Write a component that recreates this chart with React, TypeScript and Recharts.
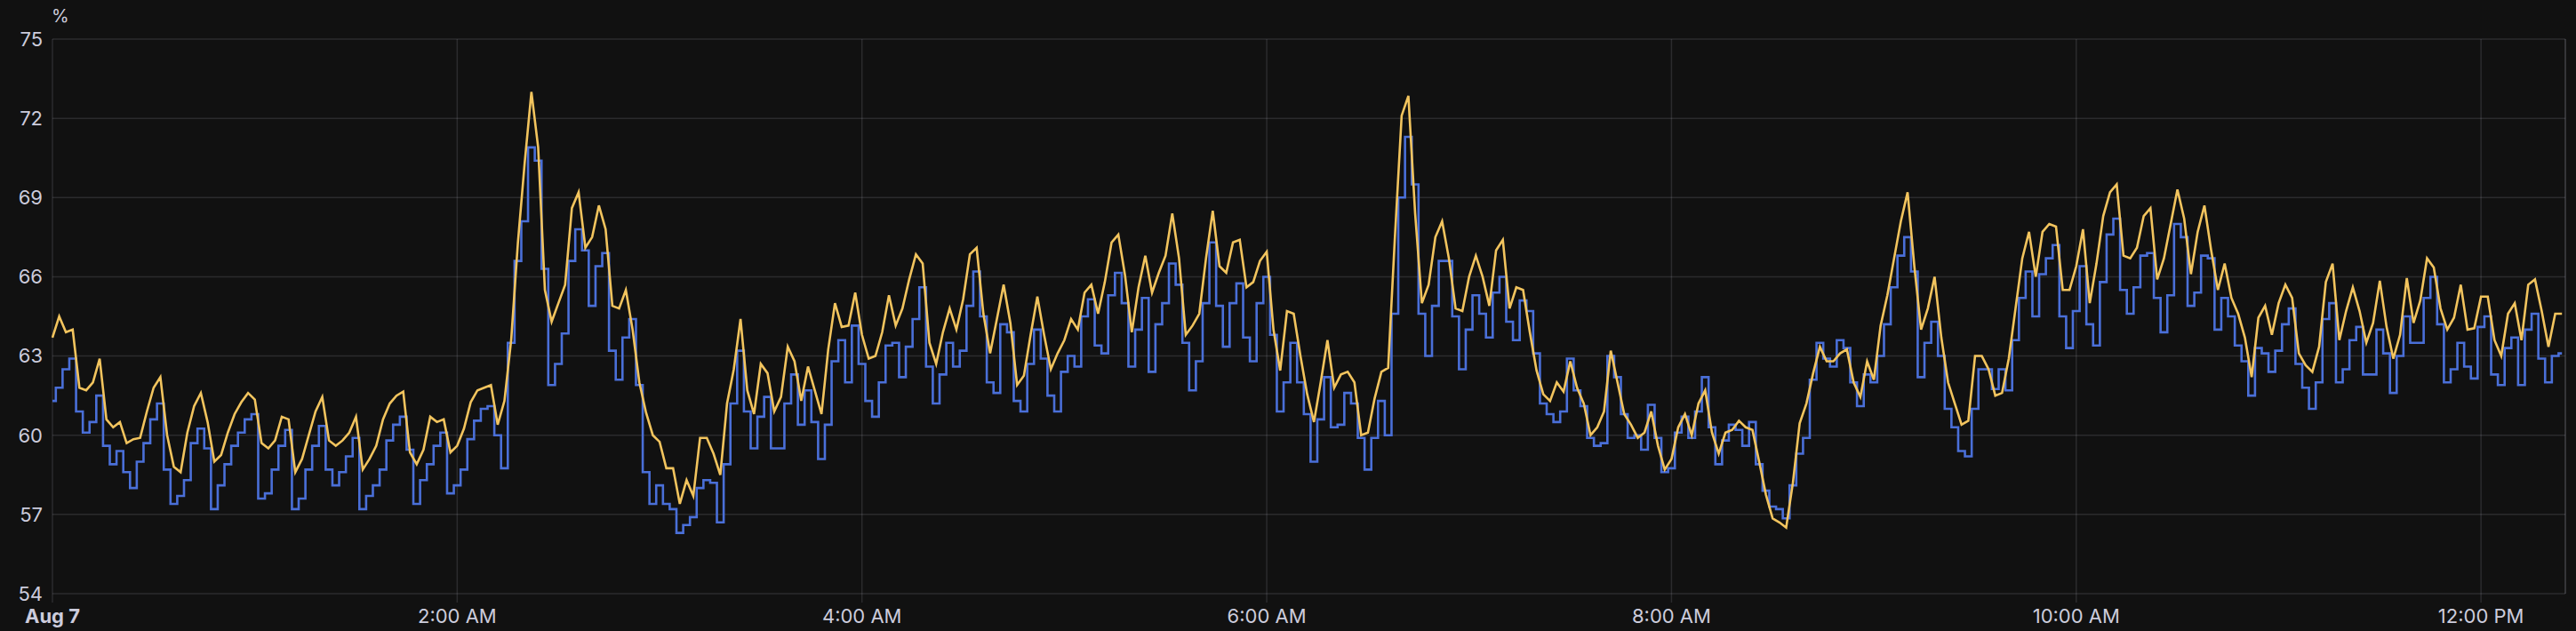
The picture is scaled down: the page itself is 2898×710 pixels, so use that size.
import React from "react";
import {
  LineChart,
  Line,
  XAxis,
  YAxis,
  CartesianGrid,
  ReferenceLine,
} from "recharts";

// minutes after midnight, one sample every 2 minutes
const STEP_MIN = 2;
const END_MIN = 745;

const tickMinutes = [0, 120, 240, 360, 480, 600, 720];
const tickLabels = ["Aug 7", "2:00 AM", "4:00 AM", "6:00 AM", "8:00 AM", "10:00 AM", "12:00 PM"];
const yTicks = [54, 57, 60, 63, 66, 69, 72, 75];

// yellow series (smooth line)
const yellowValues = [
  63.7, 64.5, 63.9, 64.0, 61.8, 61.7, 62.0, 62.9, 60.6, 60.3,
  60.5, 59.7, 59.85, 59.9, 60.9, 61.8, 62.2, 60.0, 58.8, 58.6,
  60.1, 61.1, 61.6, 60.5, 59.0, 59.25, 60.1, 60.8, 61.25, 61.6,
  61.35, 59.7, 59.5, 59.8, 60.7, 60.6, 58.6, 59.1, 60.0, 60.9,
  61.45, 59.8, 59.6, 59.8, 60.1, 60.7, 58.7, 59.1, 59.6, 60.6,
  61.2, 61.5, 61.65, 59.35, 58.9, 59.45, 60.7, 60.5, 60.6, 59.35,
  59.6, 60.25, 61.25, 61.7, 61.8, 61.9, 60.4, 61.3, 63.6, 67.3,
  70.3, 73.0, 70.9, 65.5, 64.3, 65.0, 65.7, 68.6, 69.2, 67.1,
  67.5, 68.7, 67.8, 64.9, 64.8, 65.5, 64.0, 62.0, 60.85, 60.0,
  59.75, 58.75, 58.75, 57.4, 58.3, 57.7, 59.9, 59.9, 59.3, 58.5,
  61.2, 62.5, 64.4, 61.7, 60.8, 62.7, 62.35, 60.9, 61.45, 63.35,
  62.8, 61.3, 62.6, 61.7, 60.8, 63.25, 65.0, 64.1, 64.15, 65.4,
  63.8, 62.9, 63.0, 63.9, 65.3, 64.15, 64.8, 65.9, 66.85, 66.5,
  63.5, 62.7, 63.9, 64.8, 64.0, 65.15, 66.85, 67.1, 64.6, 63.1,
  64.4, 65.7, 64.25, 61.9, 62.25, 63.8, 65.25, 63.8, 62.5, 63.1,
  63.6, 64.4, 64.0, 65.4, 65.7, 64.6, 65.8, 67.3, 67.6, 66.05,
  63.9, 65.6, 66.8, 65.4, 66.15, 66.8, 68.4, 66.7, 63.8, 64.15,
  64.6, 66.7, 68.5, 66.4, 66.15, 67.3, 67.4, 65.6, 65.8, 66.6,
  66.95, 64.0, 62.45, 64.7, 64.6, 63.0, 61.55, 60.5, 62.0, 63.6,
  61.8, 62.3, 62.4, 62.0, 60.0, 60.1, 61.4, 62.4, 62.55, 67.5,
  72.1, 72.85, 68.4, 65.0, 65.7, 67.5, 68.1, 66.7, 64.8, 64.7,
  66.0, 66.8, 66.0, 64.9, 67.0, 67.4, 64.8, 65.6, 65.5, 63.9,
  62.45, 61.55, 61.3, 62.0, 61.65, 62.8, 61.8, 61.2, 60.0, 60.3,
  60.9, 63.2, 62.0, 60.8, 60.4, 59.9, 60.1, 60.9, 59.6, 58.7,
  59.1, 60.3, 60.8, 60.0, 61.2, 61.7, 60.1, 59.3, 60.1, 60.2,
  60.55, 60.3, 60.2, 59.0, 57.75, 56.85, 56.7, 56.5, 58.2, 60.45,
  61.2, 62.35, 63.35, 62.8, 62.8, 63.1, 63.25, 62.0, 61.45, 62.8,
  62.1, 64.15, 65.3, 66.7, 68.1, 69.2, 66.4, 64.0, 64.8, 66.0,
  63.7, 62.0, 61.2, 60.4, 60.55, 63.0, 63.0, 62.5, 61.5, 61.6,
  62.9, 64.8, 66.7, 67.7, 66.0, 67.7, 68.0, 67.9, 65.5, 65.5,
  66.4, 67.8, 65.0, 66.5, 68.3, 69.2, 69.5, 66.8, 66.7, 67.1,
  68.3, 68.6, 65.9, 66.7, 68.0, 69.3, 68.2, 66.1, 67.7, 68.7,
  67.0, 65.5, 66.5, 65.2, 64.6, 63.7, 62.2, 64.45, 64.9, 63.8,
  65.0, 65.7, 65.2, 63.1, 62.65, 62.4, 63.35, 65.8, 66.5, 63.6,
  64.7, 65.6, 64.7, 63.5, 64.25, 65.85, 64.1, 62.9, 63.8, 65.95,
  64.25, 65.1, 66.7, 66.35, 64.8, 64.0, 64.45, 65.7, 64.0, 64.05,
  65.25, 65.25, 63.6, 63.0, 64.6, 65.0, 63.6, 65.7, 65.9, 64.7,
  63.35, 64.6, 64.6,
];

// blue series (stepped line)
const blueValues = [
  61.3, 61.8, 62.5, 62.9, 60.9, 60.1, 60.5, 61.5, 59.6, 58.9,
  59.4, 58.6, 58.0, 59.0, 59.7, 60.6, 61.2, 58.7, 57.4, 57.7,
  58.3, 59.7, 60.25, 59.5, 57.2, 58.1, 58.9, 59.6, 60.1, 60.6,
  60.8, 57.6, 57.8, 58.7, 59.6, 60.2, 57.2, 57.6, 58.7, 59.6,
  60.35, 58.7, 58.1, 58.6, 59.2, 59.9, 57.2, 57.7, 58.1, 58.7,
  59.8, 60.4, 60.7, 59.45, 57.4, 58.3, 58.9, 59.6, 60.1, 57.8,
  58.1, 58.7, 59.85, 60.55, 61.0, 61.1, 60.0, 58.75, 63.5, 66.6,
  68.1, 70.9, 70.4, 66.3, 61.9, 62.7, 63.85, 66.6, 67.8, 67.0,
  64.9, 66.4, 66.9, 63.2, 62.1, 63.7, 64.4, 61.9, 58.6, 57.4,
  58.1, 57.4, 57.2, 56.3, 56.6, 56.9, 58.0, 58.3, 58.2, 56.7,
  58.9, 61.2, 63.2, 60.9, 59.5, 60.7, 61.45, 59.5, 59.5, 61.2,
  62.3, 60.4, 61.7, 60.5, 59.1, 60.4, 62.8, 63.6, 62.0, 64.15,
  62.7, 61.3, 60.7, 62.0, 63.4, 63.5, 62.2, 63.35, 64.4, 65.6,
  62.6, 61.2, 62.3, 63.5, 62.6, 63.2, 64.9, 66.2, 64.5, 62.0,
  61.6, 64.2, 63.9, 61.3, 60.9, 62.7, 64.0, 62.9, 61.5, 60.9,
  62.4, 63.0, 62.6, 64.5, 65.15, 63.4, 63.1, 65.3, 66.15, 65.0,
  62.6, 64.0, 65.2, 62.4, 64.2, 65.0, 66.5, 65.7, 63.5, 61.7,
  62.8, 65.0, 67.3, 64.9, 63.35, 65.0, 65.75, 63.7, 62.8, 65.0,
  66.0, 63.8, 60.9, 62.0, 63.5, 62.0, 60.8, 59.0, 60.6, 62.2,
  60.3, 60.4, 61.6, 61.2, 59.9, 58.7, 59.9, 61.3, 60.0, 64.6,
  69.0, 71.3, 69.5, 64.6, 63.0, 64.9, 66.6, 66.6, 64.5, 62.5,
  64.0, 65.3, 64.6, 63.7, 65.4, 66.0, 64.3, 63.6, 65.1, 64.7,
  63.1, 61.2, 60.8, 60.5, 60.9, 62.9, 61.7, 61.1, 59.9, 59.6,
  59.7, 63.0, 62.2, 60.8, 59.9, 60.0, 59.45, 61.15, 59.9, 58.6,
  58.75, 60.1, 60.7, 59.9, 60.9, 62.2, 60.3, 58.9, 59.8, 60.4,
  60.2, 59.6, 60.5, 58.9, 57.9, 57.3, 57.2, 56.85, 58.1, 59.3,
  59.9, 62.1, 63.5, 62.9, 62.6, 63.6, 63.3, 62.0, 61.1, 62.3,
  62.0, 63.0, 64.2, 65.6, 66.8, 67.5, 66.2, 62.2, 63.5, 64.3,
  63.0, 61.0, 60.3, 59.4, 59.2, 61.0, 62.5, 62.5, 61.75, 62.5,
  61.7, 63.6, 65.2, 66.2, 64.5, 66.1, 66.7, 67.2, 64.5, 63.3,
  64.7, 66.4, 64.2, 63.4, 65.8, 67.6, 68.2, 65.5, 64.6, 65.6,
  66.8, 66.9, 65.2, 63.9, 65.3, 68.0, 67.5, 64.9, 65.4, 66.8,
  66.7, 64.0, 65.2, 64.5, 63.4, 62.8, 61.5, 63.3, 63.1, 62.4,
  63.2, 64.2, 64.8, 62.7, 61.8, 61.0, 62.0, 64.4, 65.0, 62.0,
  62.5, 63.6, 64.1, 62.3, 62.3, 64.0, 63.1, 61.6, 63.0, 64.5,
  63.5, 63.5, 65.2, 66.0, 64.2, 62.0, 62.5, 63.5, 62.6, 62.15,
  64.1, 64.5, 62.3, 61.9, 63.3, 63.7, 61.9, 64.0, 64.6, 62.9,
  62.0, 63.0, 63.1,
];

const data = yellowValues.map((v, i) => ({
  t: i * STEP_MIN,
  yellow: v,
  blue: blueValues[i],
}));

const BG = "#111111";
const GRID = "rgba(204, 204, 220, 0.14)";
const TEXT = "#ccccdc";
const FONT = "Inter, 'Noto Sans', sans-serif";

function XTick(props: any) {
  const { x, y, payload } = props;
  const idx = tickMinutes.indexOf(payload.value);
  return (
    <text
      x={x}
      y={y}
      dy="0.71em"
      textAnchor="middle"
      fill={TEXT}
      fontSize={22}
      fontFamily={FONT}
      fontWeight={idx === 0 ? 700 : 400}
    >
      {tickLabels[idx]}
    </text>
  );
}

export default function App() {
  return (
    <div style={{ position: "relative", width: 2898, height: 710, background: BG }}>
      <style>{`body{margin:0;background:${BG};}`}</style>
      <span
        style={{
          position: "absolute",
          left: 58,
          top: 6,
          color: TEXT,
          fontFamily: FONT,
          fontSize: 20,
        }}
      >
        %
      </span>
      <LineChart
        width={2898}
        height={710}
        data={data}
        margin={{ top: 44, right: 12, left: 0, bottom: 0 }}
      >
        <CartesianGrid stroke={GRID} strokeWidth={1.5} />
        <XAxis
          dataKey="t"
          type="number"
          domain={[0, END_MIN]}
          ticks={tickMinutes}
          height={42}
          axisLine={false}
          tickLine={{ stroke: GRID, strokeWidth: 1.5 }}
          tickSize={10}
          tickMargin={7}
          tick={<XTick />}
          interval={0}
        />
        <YAxis
          type="number"
          domain={[54, 75]}
          ticks={yTicks}
          width={59}
          axisLine={false}
          tickLine={false}
          tickSize={0}
          tickMargin={11}
          interval={0}
          tick={{ fill: TEXT, fontSize: 22, fontFamily: FONT }}
        />
        <ReferenceLine x={END_MIN} stroke={GRID} strokeWidth={1.5} />
        <Line
          dataKey="blue"
          type="step"
          stroke="#4a6fd8"
          strokeWidth={2.6}
          dot={false}
          isAnimationActive={false}
        />
        <Line
          dataKey="yellow"
          type="linear"
          stroke="#f2c45e"
          strokeWidth={2.6}
          dot={false}
          isAnimationActive={false}
        />
      </LineChart>
    </div>
  );
}
